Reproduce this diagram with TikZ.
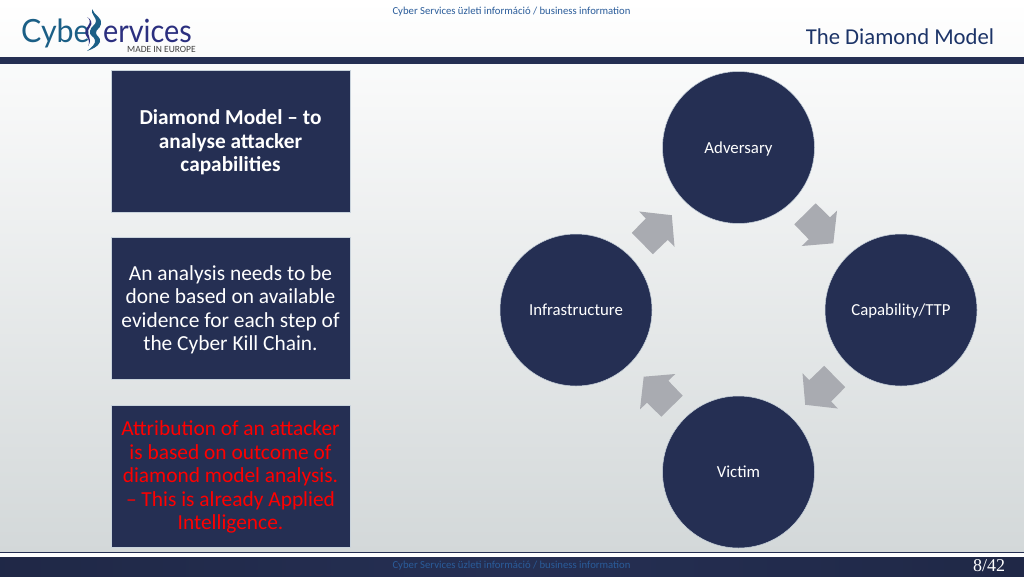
\documentclass[tikz,border=0pt]{standalone}
\usepackage{fontspec}
\setmainfont{Carlito}
\newfontfamily\logofont{Lato}
\newfontfamily\pagefont{Liberation Serif}
\usetikzlibrary{positioning}
\definecolor{navy}{HTML}{252F53}
\definecolor{boxline}{HTML}{C9D3DC}
\definecolor{arrowgrey}{HTML}{A9ABB1}
\definecolor{headblue}{HTML}{2A5C9A}
\definecolor{titleblue}{HTML}{1C3468}
\definecolor{logoteal}{HTML}{1B5F86}
\definecolor{logonavy}{HTML}{2B2F7F}
\definecolor{bgbottom}{HTML}{D3D8D9}
\newcommand{\firstline}{\rule{0pt}{17.5pt}}
\tikzset{
	textbox/.style={fill=navy,draw=boxline,line width=0.8pt,minimum width=239pt,minimum height=142pt,text width=232pt,align=flush center,text=white},
	stage/.style={circle,fill=navy,draw=boxline,line width=0.5pt,minimum size=152pt,inner sep=0pt,text height=13pt,text depth=2pt,font=\fontsize{16.8}{19}\selectfont,text=white},
	turn/.style={fill=arrowgrey}
}
\begin{document}
\begin{tikzpicture}[x=1pt,y=-1pt]
	\useasboundingbox (0,0) rectangle (1024,576);
	% page
	\shade[top color=white,bottom color=bgbottom] (0,0) rectangle (1024,553);
	\fill[navy] (0,57) rectangle (1024,63.5);
	\fill[white] (0,553) rectangle (1024,557);
	\fill[navy] (0,552) rectangle (1024,553.2);
	\shade[left color=navy!85!black,right color=navy!85!black,middle color=navy] (0,557) rectangle (1024,576);
	\node[font=\fontsize{10.7}{13}\selectfont,text=headblue] (headnote) at (511.5,11.5) {Cyber Services üzleti információ / business information};
	\node[font=\fontsize{10.7}{13}\selectfont,text=headblue] (footnote) at (511.5,565.5) {Cyber Services üzleti információ / business information};
	\node[font=\fontsize{22.7}{27}\selectfont,text=titleblue] (title) at (900,37) {The Diamond Model};
	\node[font=\pagefont\fontsize{18}{20}\selectfont,text=white] (pageno) at (989,566) {8/42};
	% logo
	\node[font=\logofont\fontsize{32}{36}\selectfont,text=logoteal,anchor=base west,inner sep=0pt,xscale=0.95] (logoa) at (21,42) {Cybe};
	\node[font=\logofont\fontsize{32}{36}\selectfont,text=logonavy,anchor=base west,inner sep=0pt,xscale=0.90] (logob) at (103,42) {ervices};
	\node[font=\fontsize{9.5}{10}\selectfont,text=black!75,anchor=base west,inner sep=0pt] (logoc) at (127,52) {MADE IN EUROPE};
	\fill[logoteal] (92,9) .. controls (94,15) and (102,17) .. (101,24) .. controls (100,29) and (96,29) .. (96,33) .. controls (96,36) and (101,37) .. (100,42) .. controls (98,47) and (92,49) .. (87,51) .. controls (91,48) and (96,44) .. (95,40) .. controls (94,36) and (89,36) .. (90,31) .. controls (91,26) and (96,25) .. (96,21) .. controls (96,17) and (91,15) .. cycle;
	\fill[logonavy] (87,17) .. controls (90,19) and (91,22) .. (88,26) .. controls (85,30) and (84,33) .. (87,37) .. controls (89,40) and (90,43) .. (88,46) .. controls (91,42) and (90,39) .. (89,36) .. controls (87,32) and (88,30) .. (90,27) .. controls (93,23) and (91,19) .. cycle;
	% text boxes
	\node[textbox,font=\bfseries\fontsize{21.3}{23.5}\selectfont] (goal) at (230.5,141) {\firstline Diamond Model -- to\\analyse attacker\\capabilities};
	\node[textbox,font=\fontsize{21.4}{23.5}\selectfont] (analysis) at (230.5,308.5) {\firstline An analysis needs to be\\done based on available\\evidence for each step of\\the Cyber Kill Chain.};
	\node[textbox,font=\fontsize{21.4}{23.5}\selectfont,text=red] (attribution) at (230.5,476) {\firstline Attribution of an attacker\\is based on outcome of\\diamond model analysis.\\-- This is already Applied\\Intelligence.};
	% diamond
	\node[stage] (adversary) at (738.5,147.5) {Adversary};
	\node[stage] (infrastructure) at (576,310) {Infrastructure};
	\node[stage] (capability) at (901,310) {Capability/TTP};
	\node[stage] (victim) at (738.5,472) {Victim};
	\foreach \a in {0,90,180,270}
	{
		\begin{scope}[rotate around={\a:(738.5,310)}]
			\fill[turn] (815.7,203.3) -- (830,217.3) -- (837,210.7) -- (833.3,243.3) -- (801.7,246) -- (808.7,239.3) -- (794.3,224.3) -- cycle;
		\end{scope}
	}
\end{tikzpicture}
\end{document}
